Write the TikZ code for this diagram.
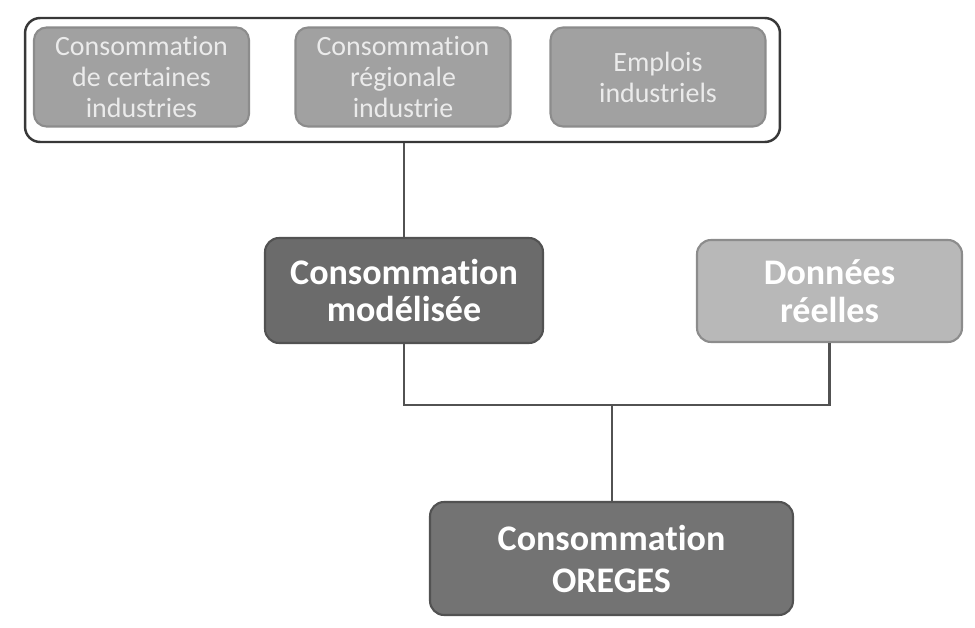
\documentclass[tikz,border=0pt]{standalone}
\usepackage{fontspec}
\setmainfont[Ligatures=NoCommon]{Carlito}
\begin{document}
\begin{tikzpicture}[x=0.02cm,y=-0.02cm,
  smallbox/.style={draw=black!45, line width=1.2pt, fill=black!37, rounded corners=0.25cm,
    minimum width=4.3cm, minimum height=1.98cm, inner sep=0pt, align=center,
    text=black!8, font=\fontsize{15.9}{17.6}\selectfont},
  bigbox/.style={draw=black!68, line width=1.2pt, rounded corners=0.28cm, inner sep=0pt,
    align=center, text=white, font=\bfseries\fontsize{20.5}{21.6}\selectfont},
  link/.style={draw=black!68, line width=1.7pt}]
\useasboundingbox (0,0) rectangle (975,628);
% outer frame holding the three input boxes
\node[draw=black!78, line width=1.4pt, fill=white, rounded corners=0.3cm,
  minimum width=15.1cm, minimum height=2.48cm, inner sep=0pt] (frame) at (402.5,80) {};
\node[smallbox] (b1) at (141.5,77) {Consommation\\de certaines\\industries};
\node[smallbox] (b2) at (403,77) {Consommation\\régionale\\industrie};
\node[smallbox] (b3) at (658,77) {Emplois\\industriels};
% central model and measured data
\node[bigbox, fill=black!58, minimum width=5.56cm, minimum height=2.1cm] (model) at (404,290.5)
  {Consommation\\modélisée};
\node[bigbox, fill=black!28, draw=black!45, minimum width=5.3cm, minimum height=2.04cm] (data) at (829.5,291)
  {Données\\réelles};
% final result
\node[bigbox, fill=black!55, minimum width=7.26cm, minimum height=2.26cm,
  font=\bfseries\fontsize{20.5}{23.9}\selectfont] (oreges) at (611.5,558.5)
  {Consommation\\OREGES};
% connectors
\coordinate (join) at (612,405);
\draw[link] (frame.south -| model.north) -- (model.north);
\draw[link] (model.south) -- (model.south |- join) -- (data.south |- join) -- (data.south);
\draw[link] (join) -- (join |- oreges.north);
\end{tikzpicture}
\end{document}
